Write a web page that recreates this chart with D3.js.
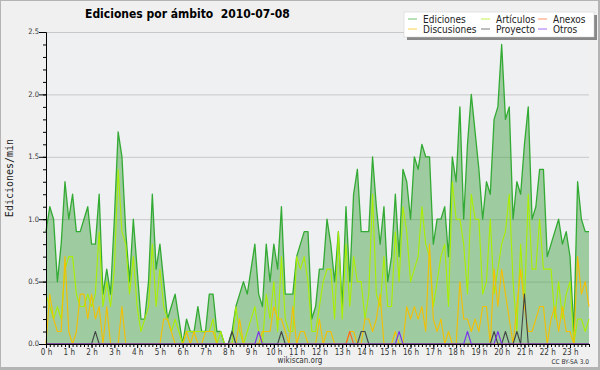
<!DOCTYPE html>
<html>
<head>
<meta charset="utf-8">
<script src="https://cdn.jsdelivr.net/npm/d3@7/dist/d3.min.js"></script>
<style>
  body { margin: 0; background: #f0f0f0; }
  text { font-family: "DejaVu Sans Condensed", "DejaVu Sans", sans-serif; }
</style>
</head>
<body>
<svg id="chart" width="600" height="370"></svg>
<script>
// edits per minute, one value every 10 minutes (144 per day)
var ediciones = [
  0.9,1.1,1.0,0.5,0.8,1.3, 1.0,1.2,0.9,0.9,1.0,1.1, 0.8,0.8,1.2,0.4,0.6,0.4,
  1.0,1.7,1.5,0.9,0.5,1.0, 0.6,0.2,0.2,0.5,1.2,0.6, 0.8,0.5,0.2,0.3,0.4,0.2,
  0.0,0.2,0.1,0.1,0.3,0.1, 0.1,0.4,0.4,0.1,0.1,0.0, 0.0,0.1,0.3,0.4,0.5,0.4,
  0.6,0.8,0.4,0.3,0.8,0.5, 0.8,0.6,1.1,0.4,0.4,0.4, 0.7,0.8,0.9,0.9,0.2,0.3,
  0.6,0.6,1.0,0.8,0.5,0.9, 0.3,1.1,0.5,1.2,1.4,0.9, 0.9,0.9,1.5,1.1,0.8,1.1,
  0.5,0.7,1.2,0.7,1.4,1.3, 1.0,1.5,1.4,1.6,1.5,1.5, 0.8,1.0,1.0,1.1,0.7,1.5,
  1.3,1.9,1.0,1.6,2.0,1.7, 1.4,1.0,1.3,1.2,1.8,1.9, 2.4,1.8,1.9,1.0,1.3,1.2,
  1.6,1.9,1.0,1.1,1.4,1.4, 0.7,0.8,0.9,1.0,0.8,0.9, 0.7,0.1,1.3,1.0,0.9,0.9
];
var articulos = [
  0.4,0.3,0.2,0.3,0.2,0.6, 0.7,0.7,0.4,0.3,0.3,0.4, 0.3,0.4,0.9,0.3,0.5,0.3,
  0.6,1.4,0.9,0.8,0.4,0.7, 0.3,0.1,0.2,0.3,0.8,0.3, 0.6,0.3,0.2,0.1,0.2,0.1,
  0.0,0.1,0.1,0.1,0.1,0.1, 0.1,0.1,0.2,0.0,0.1,0.0, 0.0,0.0,0.3,0.1,0.0,0.1,
  0.2,0.3,0.1,0.0,0.4,0.2, 0.5,0.1,0.7,0.2,0.1,0.1, 0.7,0.6,0.7,0.5,0.1,0.1,
  0.3,0.5,0.6,0.6,0.2,0.9, 0.2,0.8,0.3,0.7,0.5,0.5, 0.2,0.4,1.2,0.4,0.3,0.7,
  0.3,0.3,0.9,0.5,1.1,0.9, 0.5,0.6,0.7,1.1,0.8,0.7, 0.3,0.5,0.7,0.8,0.3,1.3,
  1.0,1.0,0.8,0.4,1.2,1.0, 1.0,0.4,0.5,1.0,0.4,0.6, 0.8,0.9,1.2,0.5,0.1,0.8,
  0.3,1.2,0.6,0.6,1.0,0.6, 0.6,0.6,0.2,0.5,0.2,0.4, 0.5,0.0,0.2,0.2,0.1,0.2
];
var discusiones = [
  0.0,0.4,0.2,0.1,0.1,0.7, 0.1,0.0,0.1,0.4,0.4,0.2, 0.4,0.2,0.3,0.0,0.3,0.0,
  0.0,0.0,0.3,0.0,0.0,0.0, 0.0,0.0,0.0,0.0,0.0,0.0, 0.0,0.2,0.2,0.1,0.0,0.0,
  0.0,0.1,0.0,0.1,0.0,0.0, 0.1,0.1,0.1,0.0,0.0,0.0, 0.0,0.0,0.0,0.2,0.0,0.0,
  0.0,0.0,0.0,0.1,0.1,0.1, 0.3,0.2,0.2,0.1,0.0,0.3, 0.0,0.1,0.1,0.0,0.0,0.0,
  0.2,0.0,0.1,0.1,0.0,0.0, 0.0,0.0,0.1,0.1,0.0,0.0, 0.2,0.2,0.1,0.2,0.4,0.0,
  0.0,0.0,0.1,0.0,0.0,0.3, 0.2,0.3,0.2,0.3,0.1,0.8, 0.2,0.1,0.2,0.0,0.1,0.0,
  0.0,0.5,0.2,0.2,0.1,0.2, 0.1,0.3,0.3,0.0,0.6,0.3, 0.6,0.4,0.2,0.0,0.3,0.6,
  0.3,0.1,0.1,0.2,0.3,0.3, 0.0,0.2,0.3,0.1,0.3,0.1, 0.1,0.0,0.7,0.4,0.5,0.3
];
var anexos = [
  0,0,0,0,0,0, 0,0,0,0,0,0, 0,0,0,0,0,0, 0,0,0,0,0,0, 0,0,0,0,0,0, 0,0,0,0,0,0,
  0,0,0,0,0,0, 0,0,0,0,0,0, 0,0,0,0,0,0, 0,0,0,0,0,0, 0,0,0,0,0,0, 0,0,0,0,0,0,
  0,0,0,0,0,0, 0,0,0.1,0,0,0, 0,0,0,0,0,0, 0,0,0,0,0,0, 0,0,0,0,0,0, 0,0,0,0,0,0,
  0,0,0,0,0,0, 0,0,0,0,0,0, 0,0,0,0,0,0, 0,0,0,0,0,0, 0,0,0,0,0,0, 0,0,0,0,0,0
];
var proyecto = [
  0,0,0,0,0,0, 0,0,0,0,0,0, 0,0.1,0,0,0,0, 0,0,0,0,0,0, 0,0,0,0,0,0, 0,0,0,0,0,0,
  0,0,0,0,0,0, 0,0,0,0,0,0, 0,0.1,0,0,0,0, 0,0,0,0,0,0, 0,0,0.1,0,0,0, 0,0,0,0,0,0,
  0,0,0,0,0,0, 0,0,0,0,0,0.1, 0.1,0,0,0,0,0, 0,0,0,0,0,0, 0,0,0,0,0,0, 0,0,0,0,0,0,
  0,0,0,0,0,0, 0,0,0,0,0.1,0, 0,0.1,0,0,0.1,0, 0.4,0,0,0,0,0, 0,0,0,0,0,0, 0,0,0,0,0,0
];
var otros = [
  0,0,0,0,0,0, 0,0,0,0,0,0, 0,0,0,0,0,0, 0,0,0,0,0,0, 0,0,0,0,0,0, 0,0,0,0,0,0,
  0,0,0,0,0,0, 0,0,0,0,0,0, 0,0,0,0,0,0, 0,0,0.1,0,0,0, 0,0,0,0,0,0, 0,0,0,0,0,0,
  0,0,0,0,0,0, 0,0,0,0,0,0, 0,0,0,0,0,0, 0,0,0,0.1,0,0, 0,0,0,0,0,0, 0,0,0,0,0,0,
  0,0,0,0.1,0,0, 0,0,0,0,0,0.1, 0,0,0,0,0,0, 0,0,0,0,0,0, 0,0,0,0,0,0, 0,0,0,0,0,0
];
var hourLabels = ["0 h","1 h","2 h","3 h","4 h","5 h","6 h","7 h","8 h","9 h","10 h","11 h",
  "12 h","13 h","14 h","15 h","16 h","17 h","18 h","19 h","20 h","21 h","22 h","23 h"];
var yTicks = [0, 0.5, 1.0, 1.5, 2.0, 2.5];
var legendNames = ["Ediciones","Artículos","Anexos","Discusiones","Proyecto","Otros"];

var colors = {
  Ediciones: "#33aa33", "Artículos": "#aaee00", Anexos: "#ff6622",
  Discusiones: "#f5bf00", Proyecto: "#444444", Otros: "#7a30ee"
};
var series = {
  Ediciones: ediciones, "Artículos": articulos, Anexos: anexos,
  Discusiones: discusiones, Proyecto: proyecto, Otros: otros
};

var plotL = 46, plotR = 589, plotT = 32, plotB = 344;
var svg = d3.select("#chart");

// frame
svg.append("rect").attr("width", 600).attr("height", 370).attr("fill", "#b4b4b4");
svg.append("rect").attr("x", 1).attr("y", 1).attr("width", 597).attr("height", 366).attr("fill", "#f0f0f0");
svg.append("rect").attr("x", plotL).attr("y", plotT).attr("width", plotR - plotL).attr("height", plotB - plotT)
  .attr("fill", "#eef0f2");

var x = d3.scaleLinear().domain([0, 143]).range([plotL, plotR]);
var y = d3.scaleLinear().domain([0, 2.5]).range([plotB, plotT]);

// grid
svg.append("g").selectAll("line").data(yTicks.slice(1)).enter().append("line")
  .attr("x1", plotL).attr("x2", plotR)
  .attr("y1", function(d) { return y(d) + 0.5; }).attr("y2", function(d) { return y(d) + 0.5; })
  .attr("stroke", "#c8c8c8").attr("stroke-width", 1);

// area of total edits
var area = d3.area()
  .x(function(d, i) { return x(i); })
  .y0(y(0))
  .y1(function(d) { return y(d); });
svg.append("path").datum(ediciones).attr("d", area)
  .attr("fill", "#2f9a2f").attr("fill-opacity", 0.42);

var line = d3.line()
  .x(function(d, i) { return x(i); })
  .y(function(d) { return y(d); });

["Ediciones","Artículos","Discusiones","Anexos","Proyecto","Otros"].forEach(function(k) {
  svg.append("path").datum(series[k]).attr("d", line)
    .attr("fill", "none")
    .attr("stroke", colors[k])
    .attr("stroke-width", k == "Ediciones" ? 1.3 : 1.1)
    .attr("stroke-linejoin", "round");
});

// y axis
var yAxis = svg.append("g").attr("transform", "translate(" + plotL + ",0)")
  .call(d3.axisLeft(y).tickValues(yTicks).tickFormat(d3.format(".1f")).tickSize(7).tickSizeOuter(0));
svg.append("g").attr("transform", "translate(" + plotL + ",0)")
  .call(d3.axisLeft(y).tickValues(d3.range(0, 26).map(function(d) { return d / 10; }))
    .tickFormat("").tickSize(3).tickSizeOuter(0));
yAxis.selectAll("text").attr("font-size", 7.5).attr("fill", "#333").attr("x", -7).attr("dy", "0.25em");

// x axis
var xAxis = svg.append("g").attr("transform", "translate(0," + plotB + ")")
  .call(d3.axisBottom(x).tickValues(d3.range(0, 24).map(function(h) { return h * 6; }))
    .tickFormat(function(d, i) { return hourLabels[i]; }).tickSize(4).tickSizeOuter(0));
svg.append("g").attr("transform", "translate(0," + plotB + ")")
  .call(d3.axisBottom(x).tickValues(d3.range(0, 144)).tickFormat("").tickSize(3).tickSizeOuter(0));
xAxis.selectAll("text").attr("font-size", 8).attr("fill", "#333").attr("y", 5);
svg.selectAll(".domain").attr("stroke", "#000");
svg.selectAll(".tick line").attr("stroke", "#000");

// title
svg.append("text").attr("x", 85).attr("y", 18).attr("font-size", 12).attr("font-weight", "bold")
  .attr("fill", "#000").attr("xml:space", "preserve").text("Ediciones por ámbito  2010-07-08");

// y label
svg.append("text").attr("transform", "translate(13,178) rotate(-90)")
  .attr("text-anchor", "middle").attr("font-size", 10)
  .style("font-family", "'DejaVu Sans Mono', monospace")
  .attr("fill", "#222").text("Ediciones/min");

// footer
svg.append("text").attr("x", 300).attr("y", 363).attr("text-anchor", "middle")
  .attr("font-size", 8).attr("fill", "#333").text("wikiscan.org");
svg.append("text").attr("x", 589).attr("y", 364).attr("text-anchor", "end")
  .attr("font-size", 6.5).attr("fill", "#333").text("CC BY-SA 3.0");

// legend
var lg = svg.append("g");
lg.append("rect").attr("x", 407).attr("y", 15).attr("width", 190).attr("height", 25).attr("fill", "#888");
lg.append("rect").attr("x", 404).attr("y", 12).attr("width", 190).attr("height", 25)
  .attr("fill", "#fff").attr("stroke", "#ccc").attr("stroke-width", 0.5);
var colX = [408, 481, 538];
legendNames.forEach(function(n, i) {
  var cx = colX[i % 3], cy = i < 3 ? 19 : 29;
  lg.append("line").attr("x1", cx).attr("x2", cx + 9).attr("y1", cy).attr("y2", cy)
    .attr("stroke", colors[n]).attr("stroke-opacity", 0.7).attr("stroke-width", 1);
  lg.append("text").attr("x", cx + 15).attr("y", cy + 3.5).attr("font-size", 10)
    .attr("fill", "#222").text(n);
});
</script>
</body>
</html>
